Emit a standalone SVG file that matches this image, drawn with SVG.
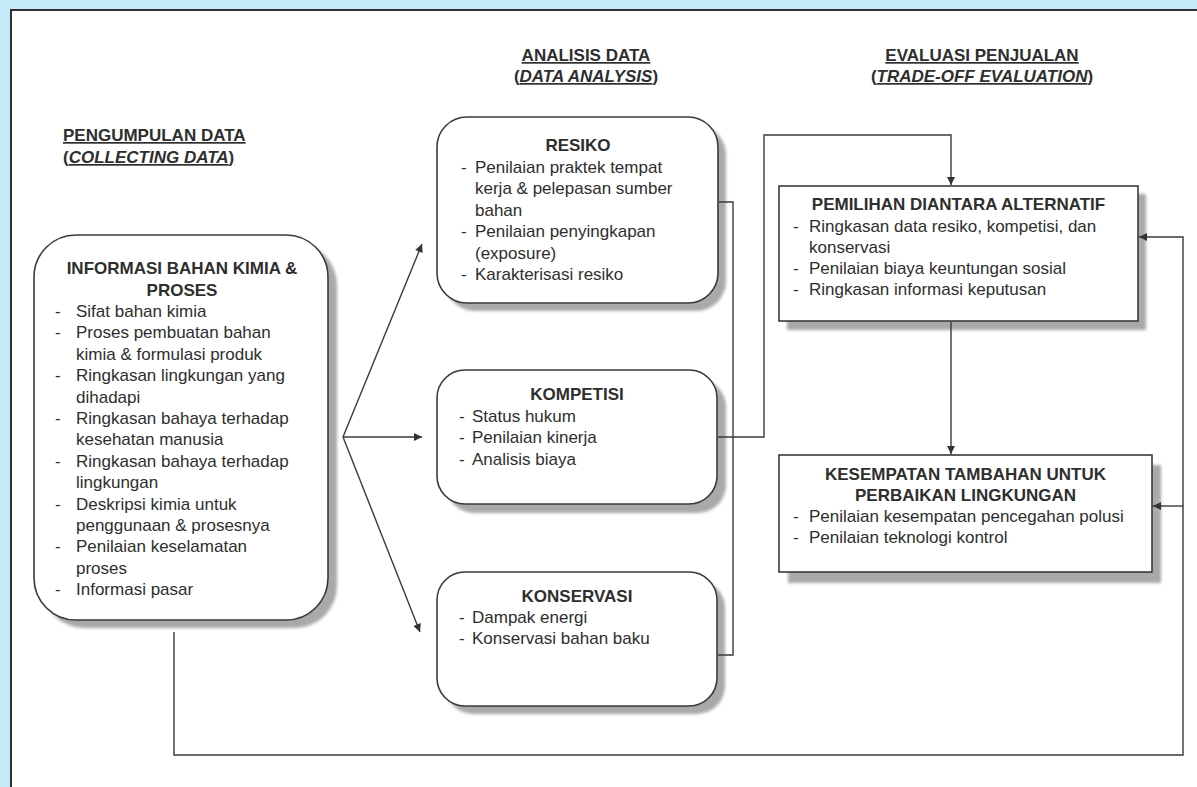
<svg xmlns="http://www.w3.org/2000/svg" width="1197" height="787" viewBox="0 0 1197 787">
<defs>
<style>
.t{font-family:"Liberation Sans",Arial,sans-serif;font-size:17px;fill:#2e2e2e}
.b{font-weight:bold}
.u{text-decoration:underline}
.c{text-anchor:middle}
.box{fill:#fff;stroke:#3a3a3a;stroke-width:1.6}
.sh{fill:#a9a9a9;filter:url(#blur)}
.ln{fill:none;stroke:#3a3a3a;stroke-width:1.4}
</style>
<filter id="blur" x="-5%" y="-5%" width="110%" height="110%"><feGaussianBlur stdDeviation="1.4"/></filter>
<marker id="ah" viewBox="0 0 10 10" refX="10" refY="5" markerWidth="10" markerHeight="8" markerUnits="userSpaceOnUse" orient="auto"><path d="M0,0 L10,5 L0,10 z" fill="#333"/></marker>
</defs>
<rect x="0" y="0" width="1197" height="787" fill="#c6e9f8"/>
<rect x="11" y="10" width="1200" height="800" fill="#fff" stroke="#2e2e2e" stroke-width="2"/>

<g id="headers">
<text class="t b u" x="63" y="141">PENGUMPULAN DATA</text>
<text class="t b u" x="63" y="163">(<tspan font-style="italic">COLLECTING DATA</tspan>)</text>
<text class="t b u c" x="586" y="61">ANALISIS DATA</text>
<text class="t b u c" x="586" y="82">(<tspan font-style="italic">DATA ANALYSIS</tspan>)</text>
<text class="t b u c" x="982" y="61">EVALUASI PENJUALAN</text>
<text class="t b u c" x="982" y="82">(<tspan font-style="italic">TRADE-OFF EVALUATION</tspan>)</text>
</g>

<g id="informasi">
<rect class="sh" x="42" y="243" width="295" height="385" rx="42"/>
<rect class="box" x="34" y="235" width="294" height="385" rx="42"/>
<text class="t b c" x="182" y="274">INFORMASI BAHAN KIMIA &amp;</text>
<text class="t b c" x="182" y="296">PROSES</text>
<g class="t">
<text x="55" y="317">-</text><text x="76" y="317">Sifat bahan kimia</text>
<text x="55" y="338.4">-</text><text x="76" y="338.4">Proses pembuatan bahan</text>
<text x="76" y="359.8">kimia &amp; formulasi produk</text>
<text x="55" y="381.2">-</text><text x="76" y="381.2">Ringkasan lingkungan yang</text>
<text x="76" y="402.6">dihadapi</text>
<text x="55" y="424">-</text><text x="76" y="424">Ringkasan bahaya terhadap</text>
<text x="76" y="445.4">kesehatan manusia</text>
<text x="55" y="466.8">-</text><text x="76" y="466.8">Ringkasan bahaya terhadap</text>
<text x="76" y="488.2">lingkungan</text>
<text x="55" y="509.6">-</text><text x="76" y="509.6">Deskripsi kimia untuk</text>
<text x="76" y="531">penggunaan &amp; prosesnya</text>
<text x="55" y="552.4">-</text><text x="76" y="552.4">Penilaian keselamatan</text>
<text x="76" y="573.8">proses</text>
<text x="55" y="595.2">-</text><text x="76" y="595.2">Informasi pasar</text>
</g>
</g>

<g id="resiko">
<rect class="sh" x="445" y="125" width="281" height="186" rx="30"/>
<rect class="box" x="437" y="117" width="281" height="186" rx="30"/>
<text class="t b c" x="578" y="151">RESIKO</text>
<g class="t">
<text x="461" y="173">-</text><text x="475" y="173">Penilaian praktek tempat</text>
<text x="475" y="194.4">kerja &amp; pelepasan sumber</text>
<text x="475" y="215.8">bahan</text>
<text x="461" y="237.2">-</text><text x="475" y="237.2">Penilaian penyingkapan</text>
<text x="475" y="258.6">(exposure)</text>
<text x="461" y="280">-</text><text x="475" y="280">Karakterisasi resiko</text>
</g>
</g>

<g id="kompetisi">
<rect class="sh" x="446" y="379" width="280" height="134" rx="28"/>
<rect class="box" x="437" y="370" width="280" height="134" rx="28"/>
<text class="t b c" x="577" y="400">KOMPETISI</text>
<g class="t">
<text x="459" y="422">-</text><text x="472" y="422">Status hukum</text>
<text x="459" y="443.4">-</text><text x="472" y="443.4">Penilaian kinerja</text>
<text x="459" y="464.8">-</text><text x="472" y="464.8">Analisis biaya</text>
</g>
</g>

<g id="konservasi">
<rect class="sh" x="445" y="580" width="280" height="134" rx="28"/>
<rect class="box" x="437" y="572" width="280" height="134" rx="28"/>
<text class="t b c" x="577" y="602">KONSERVASI</text>
<g class="t">
<text x="459" y="623">-</text><text x="472" y="623">Dampak energi</text>
<text x="459" y="644.4">-</text><text x="472" y="644.4">Konservasi bahan baku</text>
</g>
</g>

<g id="pemilihan">
<rect class="sh" x="787" y="194" width="359" height="136"/>
<rect class="box" x="779" y="186" width="359" height="135"/>
<text class="t b c" x="958.5" y="210">PEMILIHAN DIANTARA ALTERNATIF</text>
<g class="t">
<text x="793" y="232">-</text><text x="809" y="232">Ringkasan data resiko, kompetisi, dan</text>
<text x="809" y="253">konservasi</text>
<text x="793" y="274">-</text><text x="809" y="274">Penilaian biaya keuntungan sosial</text>
<text x="793" y="295">-</text><text x="809" y="295">Ringkasan informasi keputusan</text>
</g>
</g>

<g id="kesempatan">
<rect class="sh" x="788" y="465" width="373" height="118"/>
<rect class="box" x="779" y="455" width="373" height="117"/>
<text class="t b c" x="965.5" y="480">KESEMPATAN TAMBAHAN UNTUK</text>
<text class="t b c" x="965.5" y="501">PERBAIKAN LINGKUNGAN</text>
<g class="t">
<text x="793" y="522">-</text><text x="809" y="522">Penilaian kesempatan pencegahan polusi</text>
<text x="793" y="543">-</text><text x="809" y="543">Penilaian teknologi kontrol</text>
</g>
</g>

<g id="connectors">
<line class="ln" x1="343" y1="437" x2="422" y2="244" marker-end="url(#ah)"/>
<line class="ln" x1="343" y1="437" x2="422" y2="437" marker-end="url(#ah)"/>
<line class="ln" x1="343" y1="437" x2="420" y2="632" marker-end="url(#ah)"/>
<polyline class="ln" points="719,202 733,202 733,655 718,655"/>
<polyline class="ln" points="718,437 764,437 764,135 951,135 951,185" marker-end="url(#ah)"/>
<line class="ln" x1="951" y1="322" x2="951" y2="454" marker-end="url(#ah)"/>
<polyline class="ln" points="174,632 174,755 1183,755 1183,237 1139,237" marker-end="url(#ah)"/>
<line class="ln" x1="1183" y1="506" x2="1153" y2="506" marker-end="url(#ah)"/>
</g>
</svg>
